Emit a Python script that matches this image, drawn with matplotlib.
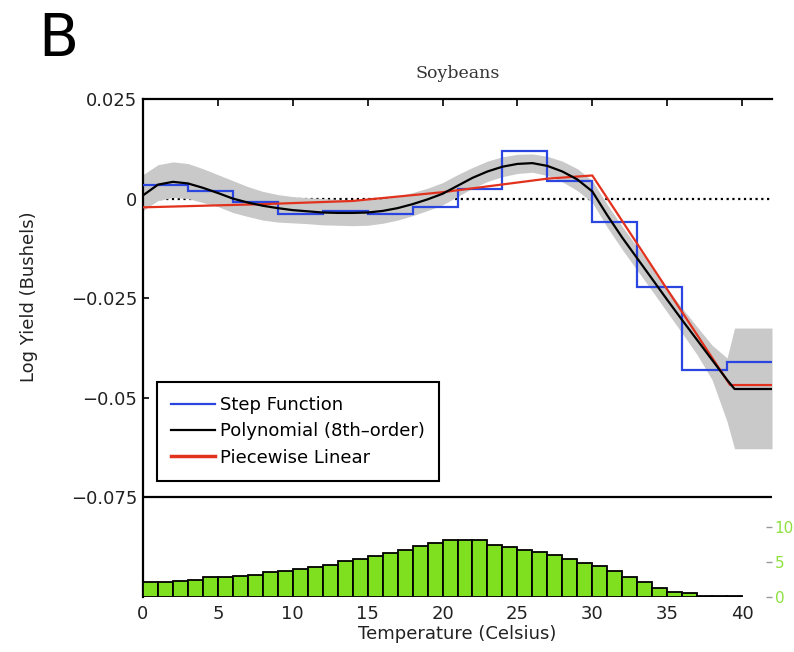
import matplotlib
matplotlib.use("Agg")
import matplotlib.pyplot as plt
import numpy as np

# ---------------- data ----------------
step_edges = [0, 3, 6, 9, 12, 15, 18, 21, 24, 27, 30, 33, 36, 39, 42]
step_vals = [0.0035, 0.002, -0.0009, -0.0039, -0.003, -0.0038, -0.0022,
             0.0025, 0.0119, 0.0045, -0.006, -0.0222, -0.043, -0.0411]

poly_x = [0, 1, 2, 3, 4, 5, 6, 7, 8, 9, 10, 11, 12, 13, 14, 15, 16, 17, 18, 19,
          20, 21, 22, 23, 24, 25, 26, 27, 28, 29, 30, 31, 32, 33, 34, 35, 36,
          37, 38, 39, 39.5, 42]
poly_y = [0.0008, 0.0035, 0.0042, 0.0038, 0.0027, 0.0014, 0.0, -0.001, -0.0018,
          -0.0024, -0.0029, -0.0032, -0.0035, -0.0036, -0.0036, -0.0035, -0.0031,
          -0.0024, -0.0014, -0.0002, 0.0012, 0.0032, 0.0052, 0.0068, 0.008,
          0.0087, 0.0089, 0.0082, 0.0068, 0.0048, 0.0018, -0.0042, -0.0098,
          -0.015, -0.0202, -0.0254, -0.0305, -0.0355, -0.0405, -0.0455, -0.0478,
          -0.0478]
band_upper = [0.006, 0.0085, 0.0092, 0.0088, 0.0075, 0.006, 0.0045, 0.003, 0.0018,
              0.001, 0.0005, 0.0002, 0.0, -0.0002, -0.0003, -0.0003, 0.0, 0.0006,
              0.0015, 0.0026, 0.004, 0.006, 0.0078, 0.0094, 0.0105, 0.0111, 0.0112,
              0.0106, 0.0094, 0.0075, 0.0045, -0.0015, -0.007, -0.0122, -0.0174,
              -0.0225, -0.0275, -0.0322, -0.0368, -0.040, -0.0325, -0.0325]
band_lower = [-0.003, -0.0005, 0.0003, 0.0, -0.001, -0.002, -0.0035, -0.0045,
              -0.0054, -0.0059, -0.0061, -0.0063, -0.0066, -0.0067, -0.0068,
              -0.0067, -0.0062, -0.0054, -0.0043, -0.003, -0.0016, 0.0005, 0.0026,
              0.0043, 0.0055, 0.0063, 0.0066, 0.0058, 0.0042, 0.002, -0.001,
              -0.0072, -0.0128, -0.018, -0.0232, -0.0285, -0.0338, -0.0392,
              -0.0455, -0.056, -0.0628, -0.0628]

pw_x = [0, 8, 14, 20, 27, 30, 39.2, 42]
pw_y = [-0.0022, -0.0014, -0.0006, 0.0016, 0.005, 0.0058, -0.0468, -0.0468]

hist_left = list(range(0, 40))
hist_vals = [2.1, 2.1, 2.3, 2.4, 2.9, 2.9, 3.0, 3.1, 3.6, 3.7, 4.0, 4.3, 4.6, 5.1,
             5.4, 5.9, 6.3, 6.7, 7.3, 7.7, 8.1, 8.1, 8.1, 7.4, 7.1, 6.7, 6.4, 6.0,
             5.4, 4.9, 4.4, 3.7, 2.9, 2.1, 1.3, 0.7, 0.6, 0.15, 0.07, 0.15]

yticks = [0.025, 0, -0.025, -0.05, -0.075]
ytick_labels = ["0.025", "0", "\u22120.025", "\u22120.05", "\u22120.075"]
xticks = [0, 5, 10, 15, 20, 25, 30, 35, 40]
hist_ticks = [0, 5, 10]

# ---------------- figure ----------------
plt.rcParams['font.family'] = ['DejaVu Sans']
fig = plt.figure(figsize=(7.94, 6.52), dpi=100)
ax = fig.add_axes([0.1801, 0.0844, 0.7922, 0.7638])
ax.set_xlim(0, 42)
ax.set_ylim(-0.1, 0.025)

ax.plot([0, 42], [0, 0], color='k', lw=1.6, ls=(0, (1, 1.6)), zorder=1)
ax.fill_between(poly_x, band_lower, band_upper, color='#c9c9c9', lw=0, zorder=2)
ax.stairs(step_vals, step_edges, baseline=None, color='#2b45e0', lw=1.6,
          zorder=3, label='Step Function')
ax.plot(poly_x, poly_y, color='k', lw=1.6, zorder=5, label='Polynomial (8th\u2013order)')
ax.plot(pw_x, pw_y, color='#e2321e', lw=1.6, zorder=4, label='Piecewise Linear')
ax.axhline(-0.075, color='k', lw=1.6, zorder=6)

for s in ['right', 'bottom']:
    ax.spines[s].set_visible(False)
for s in ['left', 'top']:
    ax.spines[s].set_linewidth(1.6)

ax.set_yticks(yticks)
ax.set_yticklabels(ytick_labels)
ax.set_xticks(xticks)
ax.set_xticklabels([str(t) for t in xticks])
ax.tick_params(axis='y', direction='in', length=4, width=1.2, left=True,
               right=True, labelsize=13, pad=4, labelcolor='#222222')
ax.tick_params(axis='x', direction='in', length=5, width=1.2, top=True,
               bottom=False, labelbottom=True, labelsize=13, pad=6,
               labelcolor='#222222')
ax.set_xlabel('Temperature (Celsius)', fontsize=13, labelpad=1, color='#222222')
ax.set_ylabel('Log Yield (Bushels)', fontsize=13, color='#222222')
ax.yaxis.set_label_coords(-0.167, 0.602)

leg = ax.legend(loc='upper left', bbox_to_anchor=(0.022, 0.432), borderaxespad=0,
                fontsize=13, handlelength=2.4, handletextpad=0.3,
                labelspacing=0.45, borderpad=0.8, fancybox=False,
                framealpha=1, edgecolor='k')
leg.get_frame().set_linewidth(1.5)
leg.legend_handles[2].set_linewidth(2.5)
leg.set_zorder(10)

ax2 = ax.twinx()
ax2.set_ylim(0, 71.1)
ax2.bar(hist_left, hist_vals, width=1, align='edge', color='#7ee01e',
        edgecolor='k', lw=1.3)
for s in ax2.spines.values():
    s.set_visible(False)
ax2.set_yticks(hist_ticks)
ax2.set_yticklabels([str(t) for t in hist_ticks])
ax2.tick_params(axis='y', direction='in', length=4, width=1.0, color='#999999',
                labelcolor='#8fe040', labelsize=11, pad=2)

fig.text(457.5 / 794, 1 - 73 / 652, 'Soybeans', fontsize=12.5,
         family='DejaVu Serif', ha='center', va='center', color='#333333')
fig.text(0.074, 1 - 40 / 652, 'B', fontsize=42, ha='center', va='center')

fig.savefig('out.png', dpi=100)
